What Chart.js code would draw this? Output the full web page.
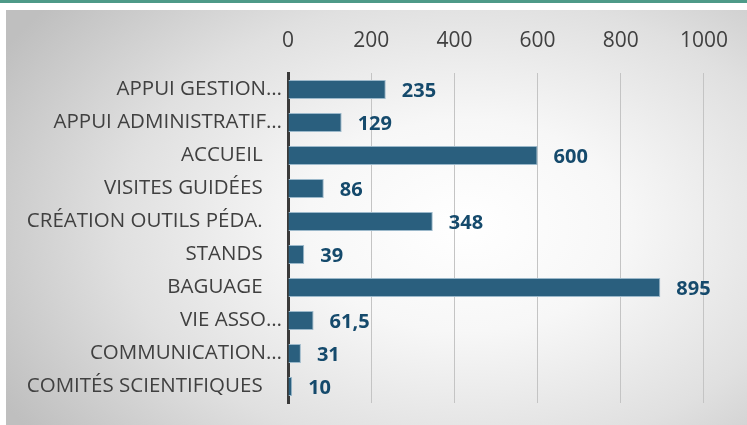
<!DOCTYPE html>
<html>
<head>
<meta charset="utf-8">
<script src="https://cdn.jsdelivr.net/npm/chart.js@4/dist/chart.umd.min.js"></script>
<style>
  html, body { margin: 0; padding: 0; background: #ffffff; }
  #wrap { position: relative; width: 747px; height: 425px; overflow: hidden; }
  #band { position: absolute; left: 0; top: 0; width: 747px; height: 3px; background: #4e9a88; }
  #panel { position: absolute; left: 6px; top: 10px; width: 741px; height: 415px;
    background: radial-gradient(ellipse 72% 85% at 62% 52%, #ffffff 0%, #f7f7f7 30%, #e0e0e0 65%, #bfbfbf 100%); }
  #c { position: absolute; left: 0; top: 0; }
</style>
</head>
<body>
<div id="wrap">
  <div id="band"></div>
  <div id="panel"></div>
  <canvas id="c" width="747" height="425"></canvas>
</div>
<script>
const categories = [
  "APPUI GESTION…",
  "APPUI ADMINISTRATIF…",
  "ACCUEIL",
  "VISITES GUIDÉES",
  "CRÉATION OUTILS PÉDA.",
  "STANDS",
  "BAGUAGE",
  "VIE ASSO…",
  "COMMUNICATION…",
  "COMITÉS SCIENTIFIQUES"
];
const values = [235, 129, 600, 86, 348, 39, 895, 61.5, 31, 10];
const xTicks = [0, 200, 400, 600, 800, 1000];

const valueLabels = {
  id: 'valueLabels',
  afterDatasetsDraw(chart) {
    const ctx = chart.ctx;
    const meta = chart.getDatasetMeta(0);
    ctx.save();
    ctx.font = 'bold 20px "Open Sans"';
    ctx.fillStyle = '#154a6c';
    ctx.textAlign = 'left';
    ctx.textBaseline = 'middle';
    meta.data.forEach((bar, i) => {
      const txt = String(values[i]).replace('.', ',');
      ctx.fillText(txt, bar.x + 16, bar.y + 2);
    });
    ctx.restore();
  }
};

new Chart(document.getElementById('c'), {
  type: 'bar',
  data: {
    labels: categories,
    datasets: [{
      data: values,
      backgroundColor: '#2a5f7e',
      borderColor: '#9bb8ca',
      borderWidth: 1,
      borderSkipped: 'start',
      categoryPercentage: 1,
      barPercentage: 0.58
    }]
  },
  options: {
    indexAxis: 'y',
    responsive: false,
    animation: false,
    layout: { padding: { left: 0, right: 42, top: 0, bottom: 22 } },
    plugins: { legend: { display: false }, tooltip: { enabled: false } },
    scales: {
      x: {
        position: 'top',
        min: 0, max: 1000,
        afterBuildTicks: s => { s.ticks = xTicks.map(v => ({ value: v })); },
        afterFit: s => { s.height = 73; },
        ticks: {
          color: '#404040', font: { family: '"Open Sans"', size: 21 }, padding: 19,
          callback: v => String(v)
        },
        grid: { color: '#c4c4c4', lineWidth: 1, drawTicks: false },
        border: { display: false }
      },
      y: {
        afterFit: s => { s.width = 288; },
        ticks: {
          color: '#404040',
          font: { family: '"Open Sans"', size: 20.5 },
          padding: 6,
          callback: function (v, i) {
            const l = categories[i];
            return l.endsWith('…') ? l : l + '\u00a0\u00a0\u00a0\u2009';
          }
        },
        grid: { display: false, drawTicks: false },
        border: { display: true, color: '#3a3a3a', width: 3 }
      }
    }
  },
  plugins: [valueLabels]
});
</script>
</body>
</html>
